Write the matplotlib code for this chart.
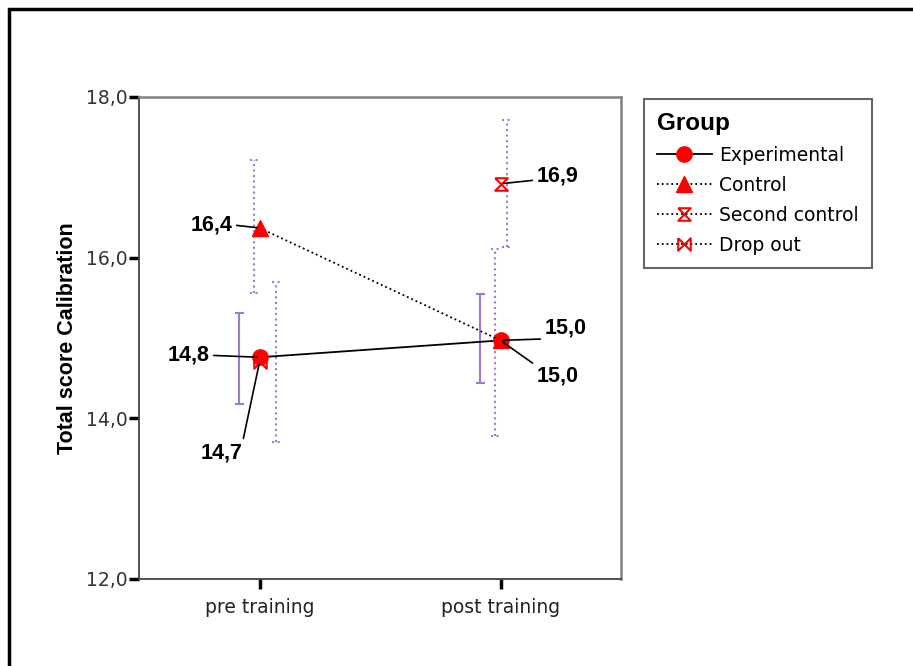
import matplotlib
matplotlib.use("Agg")
import matplotlib.pyplot as plt
import numpy as np
from matplotlib.lines import Line2D
from matplotlib.patches import Rectangle

# group means and 95% CI per time point (nan = no data)
groups = ["Experimental", "Control", "Second control", "Drop out"]
times = ["pre training", "post training"]
mean_pre = [14.76, 16.37, np.nan, 14.70]
mean_post = [14.97, 14.97, 16.92, np.nan]
ci_pre_lo = [14.18, 15.56, np.nan, 13.71]
ci_pre_hi = [15.31, 17.22, np.nan, 15.70]
ci_post_lo = [14.44, 13.78, 16.13, np.nan]
ci_post_hi = [15.55, 16.11, 17.71, np.nan]

red = "#ff0000"
purple = "#9b7bd8"
hourglass = [(-1, 1), (1, 1), (-1, -1), (1, -1), (-1, 1)]
bowtie = [(-1, 1), (1, -1), (1, 1), (-1, -1), (-1, 1)]
styles = [
    dict(ls="-", marker="o", ms=11, mfc=red, mec=red, lw=1.3),
    dict(ls=":", marker="^", ms=12, mfc=red, mec=red, lw=1.3),
    dict(ls=":", marker=hourglass, ms=9, mfc="none", mec=red, mew=1.5, lw=1.3),
    dict(ls=":", marker=bowtie, ms=9, mfc="none", mec=red, mew=1.5, lw=1.3),
]
bar_offset = [-0.083, -0.022, 0.026, 0.07]
cap = 0.019

fig = plt.figure(figsize=(9.13, 6.66), dpi=100)
ax = fig.add_axes([139 / 913, 87 / 666, 482 / 913, 482 / 666])

x = np.arange(len(times))
means = np.array([mean_pre, mean_post]).T
lows = np.array([ci_pre_lo, ci_post_lo]).T
highs = np.array([ci_pre_hi, ci_post_hi]).T

for g in range(len(groups)):
    ls = "-" if g == 0 else ":"
    for t in range(len(times)):
        if np.isnan(means[g, t]):
            continue
        bx = x[t] + bar_offset[g]
        ax.vlines(bx, lows[g, t], highs[g, t], colors=purple, linestyles=ls, lw=1.5)
        ax.hlines([lows[g, t], highs[g, t]], bx - cap, bx + cap, colors=purple,
                  linestyles=ls, lw=1.5)

for g in range(len(groups)):
    ax.plot(x, means[g], color="black", zorder=3, **styles[g])

# value labels: (group, time, offset in pixels, ha, relpos of leader)
label_spec = [
    (0, 0, (-50, 2), "right", (1, 0.5)),
    (1, 0, (-27, 3), "right", (1, 0.5)),
    (3, 0, (-17, -91), "right", (1, 1)),
    (2, 1, (36, 8), "left", (0, 0.3)),
    (0, 1, (44, 12), "left", (0, 0.0)),
    (1, 1, (36, -36), "left", (0, 1)),
]
for g, t, off, ha, rp in label_spec:
    v = means[g, t]
    ax.annotate(f"{v:.1f}".replace(".", ","), (x[t], v), xytext=off,
                textcoords="offset pixels", ha=ha, va="center",
                fontsize=15.5, fontweight="bold", family="Liberation Sans",
                arrowprops=dict(arrowstyle="-", color="black", lw=1.2,
                                shrinkA=1, shrinkB=2, relpos=rp),
                zorder=4)

ax.set_xlim(-0.5, 1.5)
ax.set_ylim(12, 18)
ax.set_xticks(x)
ax.set_xticklabels(times)
ax.set_yticks([12, 14, 16, 18])
ax.set_yticklabels(["12,0", "14,0", "16,0", "18,0"])
ax.tick_params(axis="y", length=7, width=2.5, pad=1, labelsize=13.5,
               labelcolor="#333333", color="black")
ax.tick_params(axis="x", length=7, width=2.5, pad=7, labelsize=13.5,
               labelcolor="#222222", color="black")
for side in ["left", "bottom"]:
    ax.spines[side].set_color("#444444")
    ax.spines[side].set_linewidth(1.3)
for side in ["top", "right"]:
    ax.spines[side].set_color("#808080")
    ax.spines[side].set_linewidth(1.8)
ax.set_ylabel("Total score Calibration", fontsize=15.5, fontweight="bold",
              family="Liberation Sans", labelpad=6)

handles = [Line2D([], [], color="black", **s) for s in styles]
leg = fig.legend(handles, groups, loc="upper left",
                 bbox_to_anchor=(644 / 913, 1 - 99 / 666), title="Group",
                 alignment="left", fontsize=13.5, handlelength=2.9,
                 handletextpad=0.4, labelspacing=0.58, borderpad=0.7,
                 borderaxespad=0, fancybox=False, framealpha=1,
                 edgecolor="#666666")
leg.get_title().set_fontweight("bold")
leg.get_title().set_fontsize(17.5)
leg.get_title().set_family("Liberation Sans")
leg.get_frame().set_linewidth(1.5)

# outer frame
fig.add_artist(Rectangle((8.5 / 913, -0.2), 1.2, 1.2 + (666 - 8.5) / 666 - 1.0,
                         transform=fig.transFigure, fill=False, ec="black", lw=2.5))

fig.savefig("out.png", dpi=100)
